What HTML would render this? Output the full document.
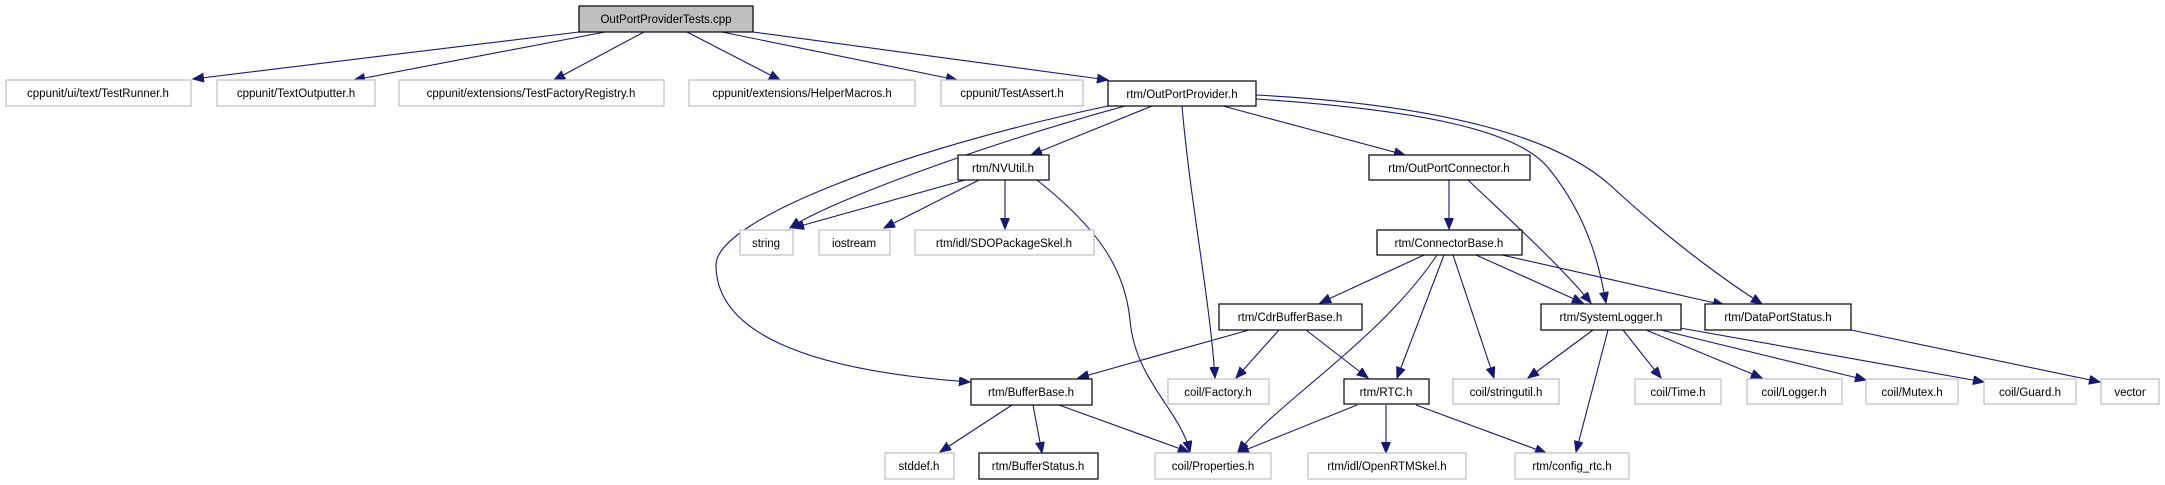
<!DOCTYPE html>
<html><head><meta charset="utf-8"><style>
html,body{margin:0;padding:0;background:#fff;}
svg{display:block;}
text{font-family:"Liberation Sans",sans-serif;font-size:11.5px;fill:#000;}
.g{fill:#fff;stroke:#bfbfbf;stroke-width:1.2;}
.b{fill:#fff;stroke:#000;stroke-width:1.2;}
.e{fill:none;stroke:#191970;stroke-width:1.1;}
</style></head><body>
<svg width="2165" height="485" viewBox="0 0 2165 485" xmlns="http://www.w3.org/2000/svg">
<defs>
<marker id="a" markerUnits="userSpaceOnUse" markerWidth="12" markerHeight="10" refX="11" refY="4.5" orient="auto">
<path d="M0,0 L11,4.5 L0,9 Z" fill="#191970" stroke="#191970"/>
</marker>
</defs>
<g class="edges">
<path class="e" marker-end="url(#a)" d="M579,32 L193,79"/>
<path class="e" marker-end="url(#a)" d="M605,32 L354,80"/>
<path class="e" marker-end="url(#a)" d="M644,32 L554,80"/>
<path class="e" marker-end="url(#a)" d="M687,32 L780,80"/>
<path class="e" marker-end="url(#a)" d="M722,32 L957,80"/>
<path class="e" marker-end="url(#a)" d="M753,32 L1108,80"/>
<path class="e" marker-end="url(#a)" d="M1152,106 L1031,155"/>
<path class="e" marker-end="url(#a)" d="M1125,106 C1000,140 830,200 790,228"/>
<path class="e" marker-end="url(#a)" d="M1108,106 C900,150 716,220 716,265 C716,330 800,370 970,382"/>
<path class="e" marker-end="url(#a)" d="M965,180 L793,228"/>
<path class="e" marker-end="url(#a)" d="M979,180 L884,228"/>
<path class="e" marker-end="url(#a)" d="M1005,180 L1005,229"/>
<path class="e" marker-end="url(#a)" d="M1037,180 C1100,230 1125,270 1130,320 C1135,380 1180,410 1190,452"/>
<path class="e" marker-end="url(#a)" d="M1182,106 C1190,200 1210,300 1215,378"/>
<path class="e" marker-end="url(#a)" d="M1223,106 L1405,155"/>
<path class="e" marker-end="url(#a)" d="M1256,99 C1420,110 1520,130 1550,170 C1590,220 1600,270 1606,303"/>
<path class="e" marker-end="url(#a)" d="M1256,95 C1450,105 1560,140 1610,185 C1680,250 1740,290 1762,304"/>
<path class="e" marker-end="url(#a)" d="M1449,180 L1449,229"/>
<path class="e" marker-end="url(#a)" d="M1468,180 C1510,220 1560,265 1591,303"/>
<path class="e" marker-end="url(#a)" d="M1424,255 L1320,303"/>
<path class="e" marker-end="url(#a)" d="M1437,255 C1380,340 1280,400 1238,452"/>
<path class="e" marker-end="url(#a)" d="M1444,255 L1397,378"/>
<path class="e" marker-end="url(#a)" d="M1453,255 L1494,378"/>
<path class="e" marker-end="url(#a)" d="M1476,255 L1583,303"/>
<path class="e" marker-end="url(#a)" d="M1502,255 L1724,305"/>
<path class="e" marker-end="url(#a)" d="M1249,330 L1078,378"/>
<path class="e" marker-end="url(#a)" d="M1279,330 L1236,378"/>
<path class="e" marker-end="url(#a)" d="M1306,330 L1368,378"/>
<path class="e" marker-end="url(#a)" d="M1593,330 L1528,378"/>
<path class="e" marker-end="url(#a)" d="M1608,330 L1576,452"/>
<path class="e" marker-end="url(#a)" d="M1623,330 L1661,378"/>
<path class="e" marker-end="url(#a)" d="M1646,330 L1762,378"/>
<path class="e" marker-end="url(#a)" d="M1661,330 L1866,380"/>
<path class="e" marker-end="url(#a)" d="M1680,328 L1984,382"/>
<path class="e" marker-end="url(#a)" d="M1851,330 L2100,382"/>
<path class="e" marker-end="url(#a)" d="M1357,405 L1238,453"/>
<path class="e" marker-end="url(#a)" d="M1386,405 L1386,453"/>
<path class="e" marker-end="url(#a)" d="M1416,405 L1546,453"/>
<path class="e" marker-end="url(#a)" d="M1012,405 L940,452"/>
<path class="e" marker-end="url(#a)" d="M1033,405 L1042,453"/>
<path class="e" marker-end="url(#a)" d="M1059,405 L1189,452"/>
</g>
<g text-anchor="middle">
<rect x="579" y="6" width="174" height="26" fill="#bfbfbf" stroke="#000" stroke-width="1.2"/><text x="666" y="23">OutPortProviderTests.cpp</text>
<rect class="g" x="6" y="80" width="185" height="26"/><text x="98" y="97">cppunit/ui/text/TestRunner.h</text>
<rect class="g" x="217" y="80" width="158" height="26"/><text x="296" y="97">cppunit/TextOutputter.h</text>
<rect class="g" x="399" y="80" width="265" height="26"/><text x="531" y="97">cppunit/extensions/TestFactoryRegistry.h</text>
<rect class="g" x="689" y="80" width="226" height="26"/><text x="802" y="97">cppunit/extensions/HelperMacros.h</text>
<rect class="g" x="941" y="80" width="142" height="26"/><text x="1012" y="97">cppunit/TestAssert.h</text>
<rect class="b" x="1108" y="81" width="148" height="25"/><text x="1182" y="98">rtm/OutPortProvider.h</text>
<rect class="b" x="958" y="155" width="91" height="25"/><text x="1003" y="172">rtm/NVUtil.h</text>
<rect class="b" x="1369" y="155" width="161" height="25"/><text x="1449" y="172">rtm/OutPortConnector.h</text>
<rect class="b" x="1377" y="230" width="145" height="25"/><text x="1449" y="247">rtm/ConnectorBase.h</text>
<rect class="g" x="740" y="230" width="53" height="25"/><text x="766" y="247">string</text>
<rect class="g" x="819" y="230" width="71" height="25"/><text x="854" y="247">iostream</text>
<rect class="g" x="915" y="230" width="179" height="25"/><text x="1004" y="247">rtm/idl/SDOPackageSkel.h</text>
<rect class="b" x="1219" y="304" width="143" height="26"/><text x="1290" y="321">rtm/CdrBufferBase.h</text>
<rect class="b" x="1541" y="304" width="140" height="26"/><text x="1611" y="321">rtm/SystemLogger.h</text>
<rect class="b" x="1705" y="304" width="146" height="26"/><text x="1778" y="321">rtm/DataPortStatus.h</text>
<rect class="b" x="971" y="379" width="121" height="26"/><text x="1031" y="396">rtm/BufferBase.h</text>
<rect class="g" x="1168" y="379" width="101" height="25"/><text x="1218" y="396">coil/Factory.h</text>
<rect class="b" x="1344" y="379" width="85" height="25"/><text x="1386" y="396">rtm/RTC.h</text>
<rect class="g" x="1453" y="379" width="106" height="25"/><text x="1506" y="396">coil/stringutil.h</text>
<rect class="g" x="1635" y="379" width="86" height="25"/><text x="1678" y="396">coil/Time.h</text>
<rect class="g" x="1747" y="379" width="95" height="25"/><text x="1794" y="396">coil/Logger.h</text>
<rect class="g" x="1866" y="379" width="92" height="25"/><text x="1912" y="396">coil/Mutex.h</text>
<rect class="g" x="1984" y="379" width="92" height="25"/><text x="2030" y="396">coil/Guard.h</text>
<rect class="g" x="2101" y="379" width="58" height="25"/><text x="2130" y="396">vector</text>
<rect class="g" x="885" y="453" width="69" height="26"/><text x="919" y="470">stddef.h</text>
<rect class="b" x="979" y="453" width="119" height="26"/><text x="1038" y="470">rtm/BufferStatus.h</text>
<rect class="g" x="1155" y="453" width="116" height="26"/><text x="1213" y="470">coil/Properties.h</text>
<rect class="g" x="1308" y="453" width="158" height="26"/><text x="1387" y="470">rtm/idl/OpenRTMSkel.h</text>
<rect class="g" x="1515" y="453" width="114" height="26"/><text x="1572" y="470">rtm/config_rtc.h</text>
</g>
</svg>
</body></html>
